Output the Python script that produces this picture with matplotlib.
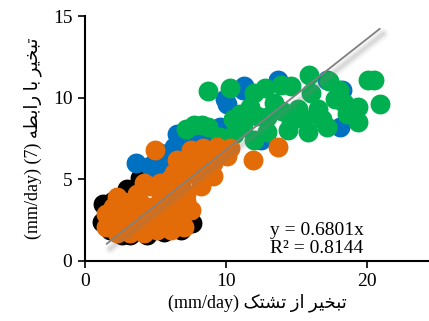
import matplotlib
matplotlib.use("Agg")
import matplotlib.pyplot as plt
import matplotlib.transforms as mtransforms
import numpy as np

# series values (pan evaporation vs. equation 7)
black_x = [1.3, 1.2, 1.8, 3.2, 6.8, 7.6, 3.9, 4.9, 3.0, 2.0, 2.6, 5.6, 6.2, 4.4]
black_y = [3.5, 2.4, 1.9, 1.6, 1.9, 2.3, 5.1, 4.9, 4.4, 3.7, 1.6, 1.8, 2.0, 1.6]

blue_x = [3.6, 4.6, 5.8, 6.5, 6.3, 7.2, 8.2, 9.1, 9.9, 10.1, 9.6, 11.2, 13.7, 17.2,
          18.2, 18.1, 12.5, 5.1, 5.3, 5.3, 8.9, 11.3]
blue_y = [6.0, 5.8, 5.8, 7.8, 7.0, 7.2, 7.4, 7.8, 9.9, 9.6, 8.2, 10.5, 11.1, 11.1,
          10.5, 8.2, 7.4, 6.4, 5.3, 6.6, 7.5, 10.7]

green_x = [8.75, 10.3, 7.7, 8.3, 7.2, 12.8, 14.6, 15.9, 17.3, 18.0, 20.1, 20.5,
           20.9, 19.4, 19.4, 18.4, 17.2, 15.8, 14.4, 12.9, 12.0, 10.5, 8.75, 11.7,
           13.4, 15.1, 16.5, 17.7, 13.9, 12.0, 16.0, 12.9, 14.6, 11.2, 9.6, 10.6,
           11.0, 12.2, 14.0, 15.5, 16.8, 18.6]
green_y = [10.4, 10.6, 8.3, 8.3, 8.1, 10.6, 10.7, 11.4, 11.0, 10.5, 11.1, 11.1,
           9.6, 9.4, 8.5, 9.7, 8.2, 7.9, 8.0, 7.9, 7.4, 8.7, 8.2, 9.4, 9.7, 9.3,
           9.3, 9.9, 10.8, 10.3, 10.3, 8.8, 8.6, 8.2, 7.6, 7.8, 9.0, 8.9, 9.2,
           8.7, 8.7, 9.0]

orange_x = [5.0, 2.3, 11.9, 13.7, 10.3, 9.4, 8.4, 7.5, 6.5, 9.1, 8.2, 7.2, 6.3, 9.1,
            8.2, 7.2, 6.1, 4.6, 3.7, 5.3, 4.4, 3.4, 2.5, 1.5, 1.5, 2.3, 3.2, 4.2,
            5.1, 6.1, 7.0, 7.5, 6.5, 5.8, 7.2, 3.4, 4.6, 2.3, 6.3, 8.2, 7.5, 5.3,
            4.2, 10.1, 8.7, 2.0, 3.0, 3.8, 4.9, 5.6, 6.8, 5.5, 6.8, 7.8, 8.8, 6.0,
            2.8, 4.0]
orange_y = [6.8, 3.9, 6.2, 7.0, 6.9, 7.0, 6.9, 6.8, 6.2, 6.0, 5.8, 5.8, 5.4, 5.2,
            4.6, 4.1, 4.6, 4.6, 4.1, 3.7, 3.3, 3.3, 2.9, 2.9, 2.1, 1.7, 1.7, 1.7,
            1.9, 1.9, 2.1, 3.1, 2.9, 3.3, 3.7, 2.5, 2.5, 2.5, 3.7, 6.4, 5.4, 4.8,
            4.8, 6.4, 5.4, 3.3, 2.2, 3.7, 3.0, 2.4, 2.6, 4.2, 4.8, 6.1, 6.5, 5.0,
            3.6, 2.1]

slope = 0.6801
fit_text = "y = 0.6801x\nR² = 0.8144"

# Persian labels, shaped by hand (presentation forms, visual order)
xlabel = "(mm/day) \uFB8F\uFE98\uFEB8\uFE97 \uFEAF\uFE8D \uFEAE\uFEF4\uFEA8\uFE92\uFE97"
ylabel = ("(mm/day) (7) \uFEEA\uFEC4\uFE91\uFE8D\uFEAD \uFE8E\uFE91 "
          "\uFEAE\uFEF4\uFEA8\uFE92\uFE97")

plt.rcParams['font.family'] = ['Liberation Serif', 'DejaVu Sans']

fig = plt.figure(figsize=(4.29, 3.21), dpi=100)
ax = fig.add_axes([0.198, 0.187, 0.802, 0.763])

s = 205
ax.scatter(black_x, black_y, s=s, color='black', linewidths=0, zorder=2)
ax.scatter(blue_x, blue_y, s=s, color='#0070C0', linewidths=0, zorder=3)
ax.scatter(green_x, green_y, s=s, color='#00B050', linewidths=0, zorder=4)
ax.scatter(orange_x, orange_y, s=s, color='#E36C09', linewidths=0, zorder=5)

# trend line through origin with a soft shadow
all_x = black_x + blue_x + green_x + orange_x
tx = np.array([min(all_x) + 0.35, max(all_x)])
shadow = mtransforms.offset_copy(ax.transData, fig=fig, x=2.5, y=-3.5, units='points')
for lw, a in [(8, 0.07), (5, 0.1), (2.5, 0.14)]:
    ax.plot(tx, slope * tx, color='gray', lw=lw, alpha=a, transform=shadow,
            solid_capstyle='round', zorder=6)
ax.plot(tx, slope * tx, color='#808080', lw=1.3, zorder=7)

ax.text(13.1, 0.25, fit_text, fontsize=14, va='bottom', ha='left',
        linespacing=1.05, zorder=8)

ax.set_xlim(0, 24.4)
ax.set_ylim(0, 15)
ax.set_xticks([0, 10, 20])
ax.set_yticks([0, 5, 10, 15])
ax.spines['top'].set_visible(False)
ax.spines['right'].set_visible(False)
for sp in ['left', 'bottom']:
    ax.spines[sp].set_linewidth(1.5)
ax.tick_params(direction='out', length=5, width=1.2, labelsize=14, pad=4)

ax.set_xlabel(xlabel, fontsize=13, labelpad=2)
ax.set_ylabel(ylabel, fontsize=13, labelpad=8)

fig.savefig('out.png', dpi=100)
